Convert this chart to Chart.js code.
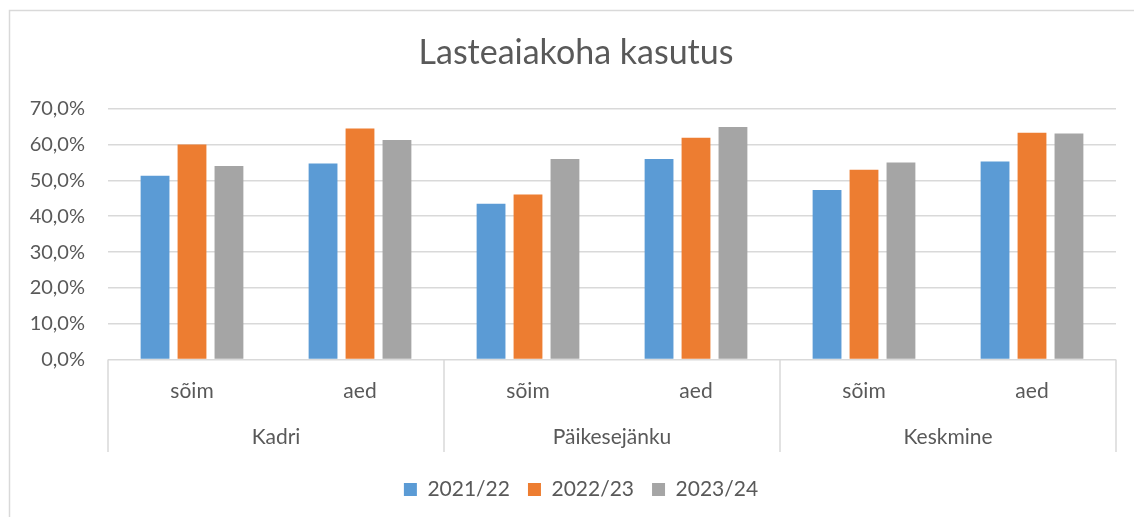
<!DOCTYPE html>
<html>
<head>
<meta charset="utf-8">
<script src="https://cdn.jsdelivr.net/npm/chart.js@4.4.1/dist/chart.umd.min.js"></script>
<style>
  html, body { margin: 0; padding: 0; background: #ffffff; }
  #wrap { position: relative; width: 1134px; height: 517px; }
</style>
</head>
<body>
<div id="wrap"><canvas id="c" width="1134" height="517"></canvas></div>
<script>
const title = 'Lasteaiakoha kasutus';
const groups = ['Kadri', 'Päikesejänku', 'Keskmine'];
const subLabels = ['sõim', 'aed', 'sõim', 'aed', 'sõim', 'aed'];
const seriesNames = ['2021/22', '2022/23', '2023/24'];
const values2122 = [51.3, 54.7, 43.5, 56.0, 47.3, 55.3];
const values2223 = [60.0, 64.5, 46.1, 61.9, 53.0, 63.3];
const values2324 = [54.0, 61.3, 56.0, 64.9, 55.0, 63.1];
const yTicks = [0, 10, 20, 30, 40, 50, 60, 70];
const colors = ['#5B9BD5', '#ED7D31', '#A5A5A5'];

const FONT = 'Lato, "Open Sans", sans-serif';
const TXT = '#595959';

// shift title and legend so they are centred like the reference
const shiftPlugin = {
  id: 'shiftPlugin',
  afterLayout(chart) {
    if (chart.titleBlock) chart.titleBlock.left = 36;
    if (chart.legend) chart.legend.left = 46;
  }
};

const groupPlugin = {
  id: 'groupPlugin',
  afterDraw(chart) {
    const ctx = chart.ctx;
    const x = chart.scales.x;
    const area = chart.chartArea;
    const top = area.bottom;
    const bottom = 452;
    ctx.save();
    ctx.strokeStyle = '#d9d9d9';
    ctx.lineWidth = 1.5;
    const per = subLabels.length / groups.length;
    const bounds = [];
    for (let g = 0; g <= groups.length; g++) {
      let px;
      if (g === 0) px = x.left;
      else if (g === groups.length) px = x.right;
      else px = (x.getPixelForValue(g * per - 1) + x.getPixelForValue(g * per)) / 2;
      bounds.push(px);
      ctx.beginPath();
      ctx.moveTo(px, top);
      ctx.lineTo(px, bottom);
      ctx.stroke();
    }
    ctx.fillStyle = TXT;
    ctx.font = '21px ' + FONT;
    ctx.textAlign = 'center';
    ctx.textBaseline = 'middle';
    for (let g = 0; g < groups.length; g++) {
      ctx.fillText(groups[g], (bounds[g] + bounds[g + 1]) / 2, 437);
    }
    // outer border (right edge lies outside the picture)
    ctx.strokeStyle = '#d9d9d9';
    ctx.lineWidth = 1.5;
    ctx.strokeRect(9.5, 10.5, 1140, 520);
    ctx.restore();
  }
};

new Chart(document.getElementById('c'), {
  type: 'bar',
  data: {
    labels: subLabels,
    datasets: [
      { label: seriesNames[0], data: values2122, backgroundColor: colors[0] },
      { label: seriesNames[1], data: values2223, backgroundColor: colors[1] },
      { label: seriesNames[2], data: values2324, backgroundColor: colors[2] }
    ]
  },
  options: {
    responsive: false,
    animation: false,
    devicePixelRatio: 1,
    layout: { padding: { left: 0, right: 18, top: 0, bottom: 7 } },
    datasets: { bar: { categoryPercentage: 0.66, barPercentage: 0.78 } },
    plugins: {
      title: {
        display: true,
        text: title,
        color: TXT,
        font: { family: FONT, size: 34, weight: 'normal' },
        padding: { top: 33, bottom: 35 }
      },
      legend: {
        position: 'bottom',
        labels: {
          color: TXT,
          font: { family: FONT, size: 21 },
          boxWidth: 13,
          boxHeight: 13,
          padding: 18
        }
      },
      tooltip: { enabled: false }
    },
    scales: {
      x: {
        grid: { display: false, drawTicks: false },
        border: { display: false },
        ticks: { color: TXT, font: { family: FONT, size: 21 }, padding: 19 },
        afterFit(scale) { scale.height = 101.5; }
      },
      y: {
        min: 0,
        max: 70,
        afterBuildTicks(scale) { scale.ticks = yTicks.map(v => ({ value: v })); },
        grid: { color: '#d9d9d9', lineWidth: 1.5, drawTicks: false },
        border: { display: false },
        ticks: {
          color: TXT,
          font: { family: FONT, size: 20 },
          padding: 23,
          callback: v => v.toFixed(1).replace('.', ',') + '%'
        },
        afterFit(scale) { scale.width = 108; }
      }
    }
  },
  plugins: [shiftPlugin, groupPlugin]
});
</script>
</body>
</html>
